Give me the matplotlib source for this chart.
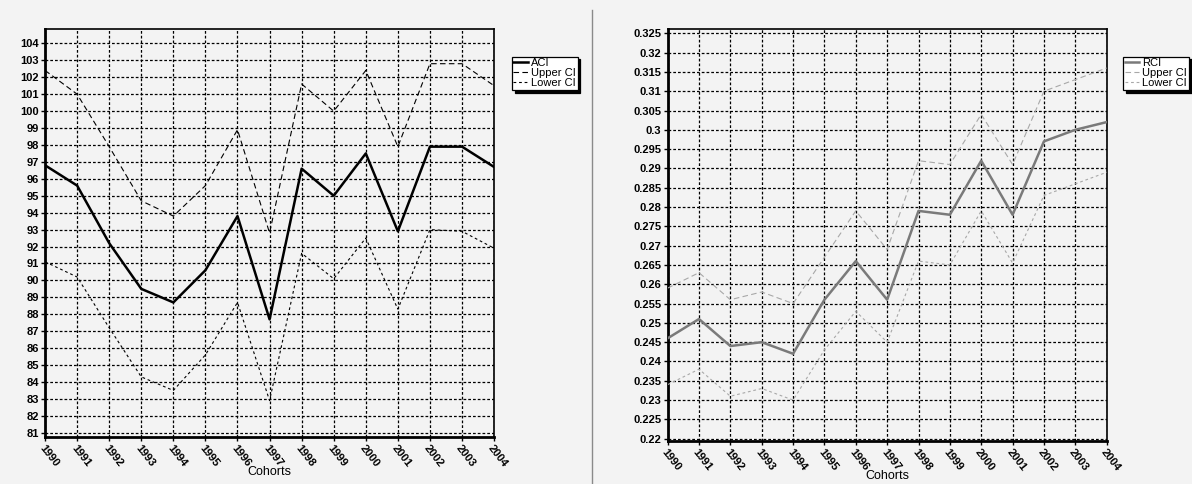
import numpy as np
import matplotlib
matplotlib.use("Agg")
import matplotlib.pyplot as plt
from matplotlib.lines import Line2D
from matplotlib.ticker import FuncFormatter, MultipleLocator

plt.rcParams['font.family'] = ['Liberation Sans Narrow', 'Liberation Sans', 'DejaVu Sans']

# cohort years shared by both panels
years = list(range(1990, 2005))

# absolute concentration index with confidence bounds
aci = [96.8, 95.6, 92.2, 89.5, 88.7, 90.6, 93.8, 87.7, 96.6, 95.0, 97.5, 92.9, 97.9, 97.9, 96.7]
aci_upper = [102.4, 101.0, 97.9, 94.7, 93.8, 95.6, 98.9, 92.8, 101.6, 100.0, 102.4, 97.9, 102.8, 102.8, 101.5]
aci_lower = [91.1, 90.2, 87.2, 84.3, 83.5, 85.6, 88.7, 82.9, 91.6, 90.1, 92.5, 88.3, 93.0, 92.9, 91.9]

# relative concentration index with confidence bounds
rci = [0.246, 0.251, 0.244, 0.245, 0.242, 0.256, 0.266, 0.256, 0.279, 0.278, 0.292, 0.278, 0.297, 0.300, 0.302]
rci_upper = [0.259, 0.263, 0.256, 0.258, 0.255, 0.267, 0.279, 0.269, 0.292, 0.291, 0.304, 0.291, 0.310, 0.313, 0.316]
rci_lower = [0.234, 0.238, 0.231, 0.233, 0.230, 0.243, 0.253, 0.245, 0.266, 0.265, 0.279, 0.2655, 0.283, 0.286, 0.289]

bg = '#f3f3f3'
fig = plt.figure(figsize=(11.92, 4.84), dpi=100, facecolor=bg)

ax1 = fig.add_axes([0.0378, 0.0971, 0.3767, 0.843], facecolor=bg)
ax2 = fig.add_axes([0.5601, 0.0888, 0.3683, 0.852], facecolor=bg)


def style_axes(ax, ylim, ystep, fmt):
    ax.set_xlim(1990, 2004)
    ax.set_ylim(*ylim)
    ax.xaxis.set_major_locator(MultipleLocator(1))
    ax.yaxis.set_major_locator(MultipleLocator(ystep))
    ax.yaxis.set_major_formatter(FuncFormatter(fmt))
    ax.grid(True, color='black', linestyle=(0, (2.2, 1.6)), linewidth=0.9, zorder=1)
    ax.set_axisbelow(True)
    for side in ('left', 'bottom'):
        ax.spines[side].set_linewidth(2.0)
    for side in ('top', 'right'):
        ax.spines[side].set_linewidth(1.2)
    ax.tick_params(axis='both', direction='out', length=3, width=1, pad=1.5,
                   labelsize=8)
    for lab in ax.get_yticklabels():
        lab.set_fontweight('bold')
    ax.set_xticks(years)
    ax.set_xticklabels([str(y) for y in years], rotation=-52, ha='left', va='top',
                       rotation_mode='anchor', fontweight='bold', fontsize=8)
    ax.set_xlabel('Cohorts', fontsize=9, family=['Liberation Sans', 'DejaVu Sans'])
    ax.xaxis.set_label_coords(0.5, -0.07)


def add_legend(ax, anchor):
    leg = ax.legend(loc='upper left', bbox_to_anchor=anchor, bbox_transform=fig.transFigure,
                    fancybox=False, framealpha=1, edgecolor='black',
                    shadow={'color': 'black', 'alpha': 1},
                    prop={'family': ['Liberation Sans', 'DejaVu Sans'], 'size': 8},
                    handlelength=1.3, handletextpad=0.3, labelspacing=0.0,
                    borderpad=0.15, borderaxespad=0)
    leg.get_frame().set_linewidth(0.9)


# left panel: ACI
ax1.plot(years, aci, color='black', lw=1.8, label='ACI', zorder=3)
ax1.plot(years, aci_upper, color='black', lw=0.8, ls=(0, (5, 3)), label='Upper CI', zorder=3)
ax1.plot(years, aci_lower, color='black', lw=0.8, ls=(0, (2.5, 2.5)), label='Lower CI', zorder=3)
style_axes(ax1, (80.75, 104.85), 1, lambda v, p: f"{v:.0f}")
add_legend(ax1, (0.4293, 0.8829))

# right panel: RCI
ax2.plot(years, rci, color='#7a7a7a', lw=1.8, label='RCI', zorder=3)
ax2.plot(years, rci_upper, color='#a8a8a8', lw=0.8, ls=(0, (5, 3)), label='Upper CI', zorder=3)
ax2.plot(years, rci_lower, color='#a8a8a8', lw=0.8, ls=(0, (2.5, 2.5)), label='Lower CI', zorder=3)
style_axes(ax2, (0.2194, 0.3262), 0.005, lambda v, p: f"{round(v, 3):g}")
add_legend(ax2, (0.9421, 0.8829))

# page divider between the two panels
fig.add_artist(Line2D([0.4966, 0.4966], [0.0, 0.98], transform=fig.transFigure,
                      color='#8a8a8a', lw=1.0))

fig.savefig('out.png', dpi=100, facecolor=bg)
